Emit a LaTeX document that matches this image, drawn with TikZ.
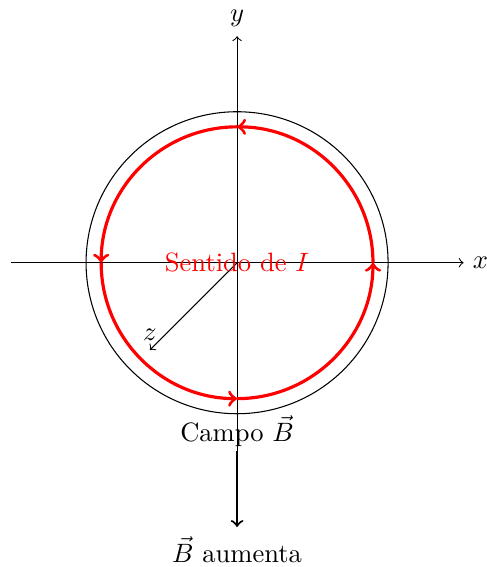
\documentclass[tikz,border=0pt]{standalone}
\usepackage{amsmath}
\usetikzlibrary{positioning}
\tikzset{
  axisline/.style={->},
  ringI/.style={red,very thick,->},
  fieldarrow/.style={thick,->}
}
\begin{document}
\begin{tikzpicture}
  \useasboundingbox (-3.14,-4.03) rectangle (3.3,3.48);
  % axes
  \coordinate (O) at (0,0);
  \coordinate (xl) at (-3,0);
  \coordinate (xr) at (3,0);
  \coordinate (yb) at (0,-2.5);
  \coordinate (yt) at (0,3);
  \coordinate (zt) at (0,0,3);
  \draw[axisline] (xl) -- (xr);
  \node[right] (xlab) at (xr) {$x$};
  \draw[axisline] (yb) -- (yt);
  \node[above] (ylab) at (yt) {$y$};
  \draw[axisline] (O) -- (zt);
  \node[above] (zlab) at (zt) {$z$};
  % loop and current
  \draw (O) circle (2);
  \foreach \a in {0,90,180,270}
    \draw[ringI] (\a:1.8) arc (\a:\a+90:1.8);
  \node[red] (sense) at (O) {Sentido de $I$};
  % field
  \node[below] (campo) at (0,-1.9) {Campo $\vec{B}$};
  \coordinate (bs) at (0,-2.5);
  \coordinate (be) at (0,-3.5);
  \draw[fieldarrow] (bs) -- (be);
  \node[below] (grow) at (be) {$\vec{B}$ aumenta};
\end{tikzpicture}
\end{document}
